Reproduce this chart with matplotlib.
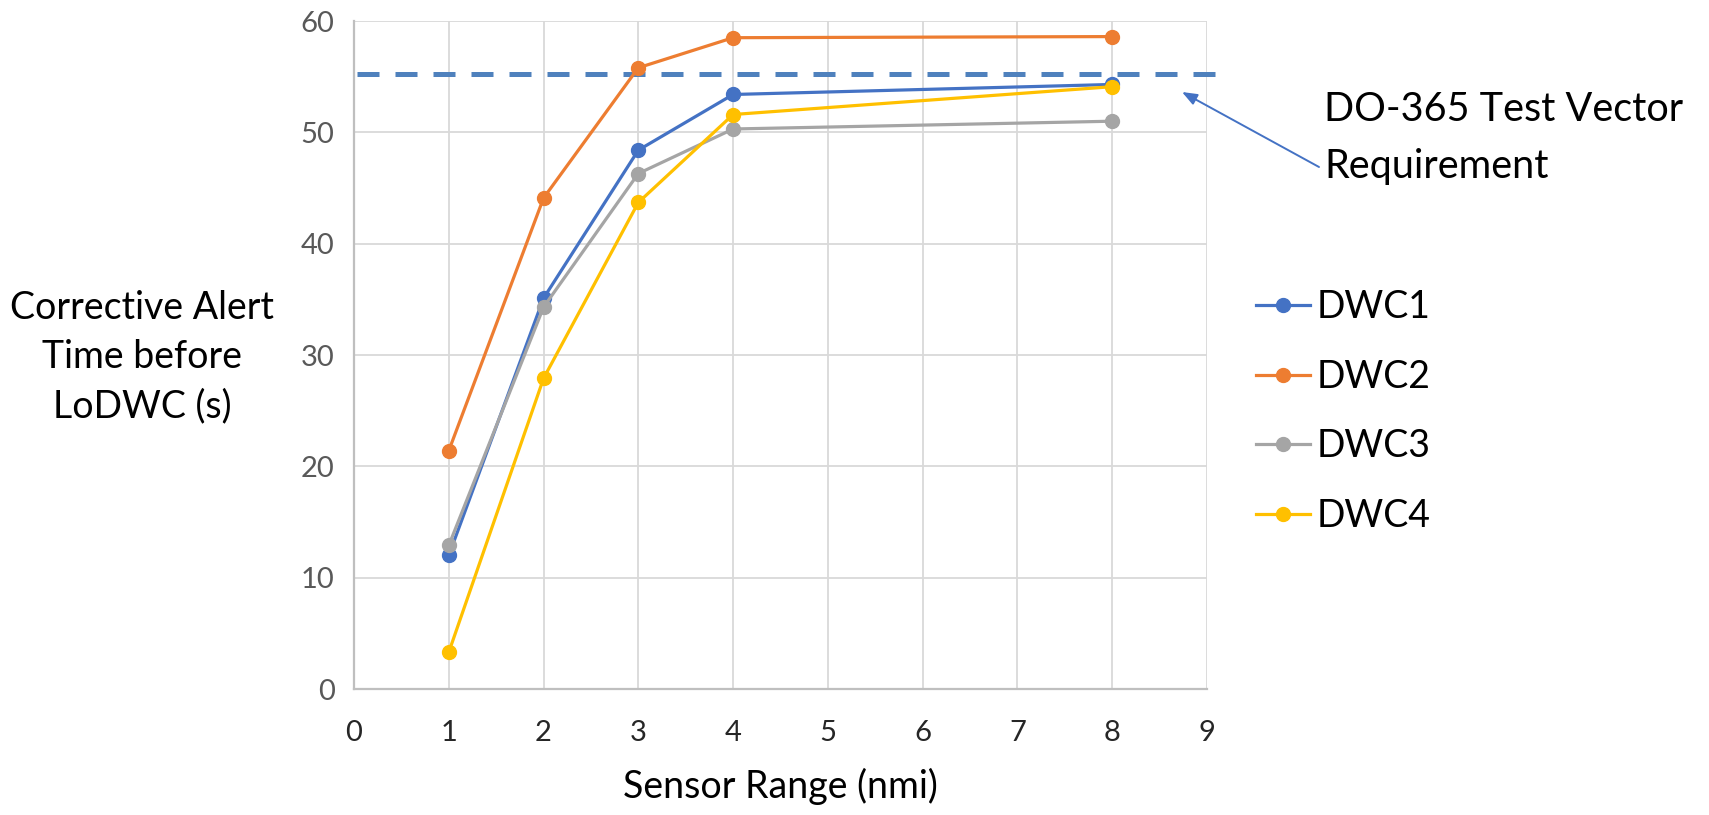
import matplotlib
matplotlib.use("Agg")
import matplotlib.pyplot as plt

# ---- data ----
sensor_range = [1, 2, 3, 4, 8]
dwc1 = [12.0, 35.1, 48.4, 53.4, 54.3]
dwc2 = [21.4, 44.1, 55.8, 58.5, 58.6]
dwc3 = [12.9, 34.3, 46.3, 50.3, 51.0]
dwc4 = [3.3, 27.9, 43.7, 51.6, 54.1]
series_names = ["DWC1", "DWC2", "DWC3", "DWC4"]
series_colors = ["#4472C4", "#ED7D31", "#A5A5A5", "#FFC000"]
requirement = 55.2
x_ticks = list(range(0, 10))
y_ticks = [0, 10, 20, 30, 40, 50, 60]

plt.rcParams['font.family'] = ['Lato', 'DejaVu Sans']

W, H = 1709, 815
fig = plt.figure(figsize=(W / 100, H / 100), dpi=100)
ax = fig.add_axes([354 / W, 1 - 689 / H, (1207 - 354) / W, (689 - 21) / H])

ax.set_xlim(0, 9)
ax.set_ylim(0, 60)
ax.set_xticks(x_ticks)
ax.set_yticks(y_ticks)
ax.grid(True, color="#D9D9D9", linewidth=1.3)
ax.set_axisbelow(True)
for s in ["top", "right"]:
    ax.spines[s].set_visible(False)
for s in ["left", "bottom"]:
    ax.spines[s].set_color("#BFBFBF")
    ax.spines[s].set_linewidth(1.6)
ax.tick_params(length=0, labelsize=21)
ax.tick_params(axis="y", pad=14, labelcolor="#595959")
ax.tick_params(axis="x", pad=22, labelcolor="#262626")

for vals, name, col in zip([dwc1, dwc2, dwc3, dwc4], series_names, series_colors):
    ax.plot(sensor_range, vals, color=col, linewidth=2.3, marker="o",
            markersize=10, label=name, clip_on=False, zorder=3)

ax.plot([0.03, 9.1], [requirement, requirement], color="#4F81BD",
        linewidth=3.6, dashes=(4.4, 3.2), clip_on=False, zorder=2)

ax.set_xlabel("Sensor Range (nmi)", fontsize=27, color="#000000", labelpad=16)

fig.text(142 / W, 1 - 357 / H, "Corrective Alert\nTime before\nLoDWC (s)",
         ha="center", va="center", fontsize=27, multialignment="center",
         linespacing=1.45)

# annotation
ax.annotate("", xy=(1182 / W, 1 - 92 / H), xycoords="figure fraction",
            xytext=(1319 / W, 1 - 167 / H), textcoords="figure fraction",
            arrowprops=dict(arrowstyle="-|>,head_length=0.9,head_width=0.35",
                            color="#4472C4", linewidth=1.4, shrinkA=0, shrinkB=0))
fig.text(1324 / W, 1 - 121 / H, "DO-365 Test Vector", ha="left",
         va="baseline", fontsize=28.5)
fig.text(1324 / W, 1 - 178 / H, "Requirement", ha="left",
         va="baseline", fontsize=28.5)

leg = ax.legend(loc="center left", bbox_to_anchor=(1256 / W, 1 - 411.5 / H),
                bbox_transform=fig.transFigure, frameon=False, fontsize=27,
                handlelength=1.45, handletextpad=0.18, labelspacing=0.9,
                borderpad=0, borderaxespad=0)

fig.savefig("out.png", dpi=100)
